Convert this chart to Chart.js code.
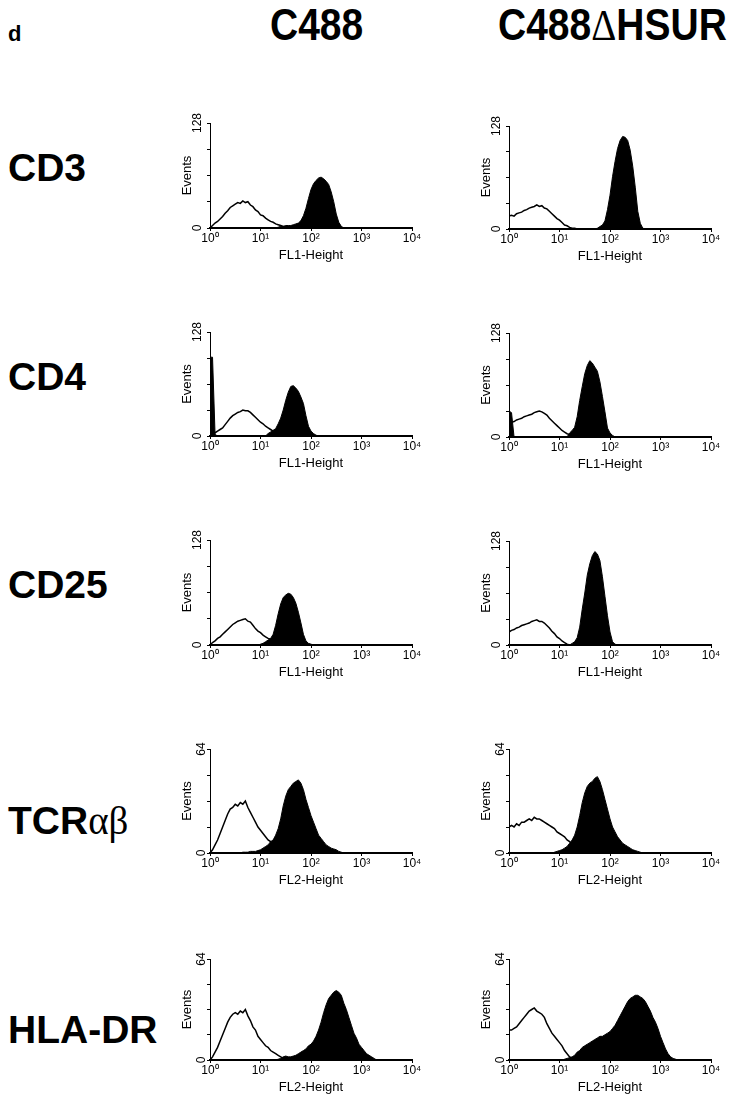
<!DOCTYPE html>
<html>
<head>
<meta charset="utf-8">
<script src="https://cdn.jsdelivr.net/npm/chart.js@4/dist/chart.umd.min.js"></script>
<style>
  html, body { margin: 0; padding: 0; background: #fff; }
  body { width: 736px; height: 1103px; position: relative; overflow: hidden;
         font-family: "Liberation Sans", Arial, sans-serif; color: #000; }
  .lbl { position: absolute; font-weight: bold; line-height: 1; white-space: nowrap; }
  .head { font-size: 39px; transform: scaleY(1.12); transform-origin: 0 0; }
  .row { font-size: 39px; }
  .sym { font-family: "Liberation Serif", "DejaVu Serif", serif; font-weight: normal; }
  .panel { position: absolute; }
</style>
</head>
<body>
<div class="lbl" style="left:8px;top:23px;font-size:22px;">d</div>
<div class="lbl head" style="left:270px;top:3px;">C488</div>
<div class="lbl head" style="left:498px;top:3px;">C488<span class="sym">Δ</span>HSUR</div>
<div id="rows"></div>
<script>
"use strict";

// fluorescence channel positions, in decades (10^0 .. 10^4)
const channels = [
	0, 0.05, 0.1, 0.15, 0.2, 0.25, 0.3, 0.35, 0.4, 0.45,
	0.5, 0.55, 0.6, 0.65, 0.7, 0.75, 0.8, 0.85, 0.9, 0.95,
	1, 1.05, 1.1, 1.15, 1.2, 1.25, 1.3, 1.35, 1.4, 1.45,
	1.5, 1.55, 1.6, 1.65, 1.7, 1.75, 1.8, 1.85, 1.9, 1.95,
	2, 2.05, 2.1, 2.15, 2.2, 2.25, 2.3, 2.35, 2.4, 2.45,
	2.5, 2.55, 2.6, 2.65, 2.7, 2.75, 2.8, 2.85, 2.9, 2.95,
	3, 3.05, 3.1, 3.15, 3.2, 3.25, 3.3, 3.35, 3.4
];
const decadeLabels = ['10\u2070', '10\u00b9', '10\u00b2', '10\u00b3', '10\u2074'];

const markers = ['CD3', 'CD4', 'CD25', 'TCR', 'HLA-DR'];
const markerGreek = ['', '', '', '\u03b1\u03b2', ''];
const channelNames = ['FL1-Height', 'FL1-Height', 'FL1-Height', 'FL2-Height', 'FL2-Height'];
const eventsMax = [128, 128, 128, 64, 64];

// event counts per channel; open = control, fill = stained
const cd3C488Open = [0,3,6,8,11,14,18,21,25,27,29,31,30,33,31,32,28,26,22,20,16,15,12,10,8,7,5,4,3,2,1,1,0];
const cd3C488Fill = [0,0,0,0,0,0,0,0,0,0,0,0,0,0,0,0,0,0,0,0,0,0,0,0,0,0,0,
	1,2,2,3,3,3,4,5,6,9,15,24,36,47,54,58,61,62,60,57,53,44,32,17,7,2,0];
const cd3HsurOpen = [16,17,16,19,20,21,23,24,26,27,28,30,28,29,26,25,22,19,16,13,11,8,5,4,2,1,1,0];
const cd3HsurFill = [0,0,0,0,0,0,0,0,0,0,0,0,0,0,0,0,0,0,0,0,0,0,0,0,0,0,0,0,0,0,0,0,0,0,0,
	1,3,5,10,24,42,65,84,100,110,115,114,110,98,78,52,22,7,1,0];

const cd4C488Open = [0,2,4,6,8,10,14,18,22,25,27,29,30,32,31,31,29,26,23,20,17,15,12,10,8,6,4,2,0];
const cd4C488Fill = [97,97,2,0,0,0,0,0,0,0,0,0,0,0,0,0,0,0,0,0,0,0,0,
	3,5,7,9,15,22,32,44,54,61,62,59,55,48,40,25,12,6,3,1,0];
const cd4HsurOpen = [17,18,19,21,22,23,25,26,27,28,30,31,32,31,29,27,23,20,17,14,11,8,6,4,3,1,0];
const cd4HsurFill = [32,30,0,0,0,0,0,0,0,0,0,0,0,0,0,0,0,0,0,0,0,0,0,0,
	5,8,12,25,45,62,78,88,94,91,86,81,68,50,31,11,5,2,0];

const cd25C488Open = [0,3,5,8,10,13,16,19,22,25,27,29,30,31,32,29,28,24,20,17,15,12,10,8,7,4,2,0];
const cd25C488Fill = [0,0,0,0,0,0,0,0,0,0,0,0,0,0,0,0,0,0,0,0,
	1,2,4,6,8,13,24,38,50,58,61,63,62,58,51,40,27,13,5,2,1,0];
const cd25HsurOpen = [16,18,19,21,22,24,25,26,27,29,30,31,29,29,27,24,21,17,14,10,8,5,3,1,0];
const cd25HsurFill = [0,0,0,0,0,0,0,0,0,0,0,0,0,0,0,0,0,0,0,0,0,0,0,0,0,
	2,4,9,22,44,64,86,100,110,115,112,104,84,60,36,16,4,1,0];

const tcrC488Open = [0,2,5,8,12,16,20,24,27,28,30,29,31,30,32,28,25,22,19,16,14,12,10,8,7,5,3,2,0];
const tcrC488Fill = [0,0,0,0,0,0,0,0,0,0,0,0,0,
	0.5,0.5,0.5,1,1,1,1.5,2,3,4,5,7,8,11,15,21,29,35,39,41,43,44,45,43,39,33,28,23,19,15,11,9,7,5,4,3,2.5,2,1,0.5,0];
const tcrHsurOpen = [16,17,16,18,17,19,19,20,21,20,22,21,21,20,19,18,17,16,15,13,12,11,10,8,7,5,3,1,0];
const tcrHsurFill = [0,0,0,0,0,0,0,0,0,0,0,0,0,0,0,0,0,0,
	0.5,1,1.5,2,3,4,6,8,11,16,23,31,37,41,43,44,46,47,44,39,33,27,21,16,13,10,8,6,5,4,3,2,1.5,1,0.5,0];

const hlaC488Open = [0,2,5,8,12,16,20,24,27,29,30,29,31,30,32,28,25,21,19,15,13,11,9,8,6,5,4,3,2,1,0];
const hlaC488Fill = [0,0,0,0,0,0,0,0,0,0,0,0,0,0,0,0,0,0,0,0,0,0,0,0,0,0,0,
	0.5,1,2,2.5,2,2,2.5,3,4,5,6,7,9,10,12,15,19,24,30,35,39,41,43,44,43,41,36,32,27,22,17,14,10,8,6,4,3,2,1,0];
const hlaHsurOpen = [19,19,20,21,23,25,27,29,31,32,33,31,30,29,27,23,20,17,15,13,11,9,6,4,2,1,0];
const hlaHsurFill = [0,0,0,0,0,0,0,0,0,0,0,0,0,0,0,0,0,0,0,0,0,0,
	0.5,1,1.5,2,3,5,6,8,9,10,11,12,13,14,15,15,16,17,18,20,22,25,28,31,34,37,39,40,41,41,40,39,37,34,31,27,24,20,15,11,7,4,2,1,0.5,0];

const openCurves = [
	[cd3C488Open, cd3HsurOpen],
	[cd4C488Open, cd4HsurOpen],
	[cd25C488Open, cd25HsurOpen],
	[tcrC488Open, tcrHsurOpen],
	[hlaC488Open, hlaHsurOpen]
];
const fillCurves = [
	[cd3C488Fill, cd3HsurFill],
	[cd4C488Fill, cd4HsurFill],
	[cd25C488Fill, cd25HsurFill],
	[tcrC488Fill, tcrHsurFill],
	[hlaC488Fill, hlaHsurFill]
];

// page layout (pixels): y axis position per column, plot top/bottom per row and column
const axisLeft = [210, 509];
const plotTop = [[123, 126], [332, 333], [540, 541], [749, 749], [959, 959]];
const plotBottom = [[228, 229], [436, 437], [645, 645], [853, 853], [1060, 1060]];
const markerY = [168, 377, 585, 821, 1030];
const PLOT_W = 202;
const Y_AXIS_W = 40;
const X_AXIS_H = 46;
const PAD_TOP = 10;
const PAD_RIGHT = 18;

const FONT = '"Liberation Sans", Arial, sans-serif';

function toPoints(counts) {
	return counts.map(function(c, i) {
		return {x: channels[i], y: c};
	});
}

function histogramConfig(open, fill, max, xTitle) {
	return {
		type: 'line',
		data: {
			datasets: [
				{
					// stained sample, drawn on top
					data: toPoints(fill),
					borderColor: '#000',
					backgroundColor: '#000',
					borderWidth: 1,
					fill: 'origin',
					pointRadius: 0,
					tension: 0,
				},
				{
					// control, outline only
					data: toPoints(open),
					borderColor: '#000',
					borderWidth: 1.5,
					fill: false,
					pointRadius: 0,
					tension: 0,
				}
			]
		},
		options: {
			animation: false,
			responsive: false,
			events: [],
			layout: {
				padding: {top: PAD_TOP, right: PAD_RIGHT, left: 0, bottom: 0}
			},
			plugins: {
				legend: {display: false},
				tooltip: {enabled: false}
			},
			scales: {
				x: {
					type: 'linear',
					min: 0,
					max: 4,
					afterFit: function(scale) { scale.height = X_AXIS_H; },
					ticks: {
						stepSize: 1,
						autoSkip: false,
						maxRotation: 0,
						padding: 0,
						color: '#000',
						font: {family: FONT, size: 12},
						callback: function(val) {
							return decadeLabels[val];
						}
					},
					grid: {drawOnChartArea: false, tickLength: 3, color: '#000'},
					border: {color: '#000', width: 2},
					title: {
						display: true,
						text: xTitle,
						color: '#000',
						font: {family: FONT, size: 13},
						padding: {top: 0, bottom: 11}
					}
				},
				y: {
					min: 0,
					max: max,
					afterFit: function(scale) { scale.width = Y_AXIS_W; },
					ticks: {
						stepSize: max / 4,
						minRotation: 90,
						maxRotation: 90,
						crossAlign: 'center',
						padding: -1,
						color: '#000',
						font: {family: FONT, size: 12},
						callback: function(val) {
							return (val === 0 || val === max) ? String(val) : '';
						}
					},
					grid: {drawOnChartArea: false, tickLength: 3, color: '#000'},
					border: {color: '#000', width: 1},
					title: {
						display: true,
						text: 'Events',
						color: '#000',
						font: {family: FONT, size: 13},
						padding: {top: 10, bottom: 0}
					}
				}
			}
		}
	};
}

const holder = document.getElementById('rows');

for (let r = 0; r < markers.length; r++) {
	const name = document.createElement('div');
	name.className = 'lbl row';
	name.textContent = markers[r];
	if (markerGreek[r]) {
		const greek = document.createElement('span');
		greek.className = 'sym';
		greek.textContent = markerGreek[r];
		name.appendChild(greek);
	}
	name.style.left = '8px';
	name.style.top = (markerY[r] - 20) + 'px';
	holder.appendChild(name);

	for (let c = 0; c < 2; c++) {
		const plotH = plotBottom[r][c] - plotTop[r][c];
		const w = Y_AXIS_W + PLOT_W + PAD_RIGHT;
		const h = PAD_TOP + plotH + X_AXIS_H;
		const box = document.createElement('div');
		box.className = 'panel';
		box.style.left = (axisLeft[c] - Y_AXIS_W) + 'px';
		box.style.top = (plotTop[r][c] - PAD_TOP) + 'px';
		const canvas = document.createElement('canvas');
		canvas.width = w;
		canvas.height = h;
		canvas.style.width = w + 'px';
		canvas.style.height = h + 'px';
		box.appendChild(canvas);
		holder.appendChild(box);

		new Chart(canvas, histogramConfig(openCurves[r][c], fillCurves[r][c], eventsMax[r], channelNames[r]));
	}
}
</script>
</body>
</html>
